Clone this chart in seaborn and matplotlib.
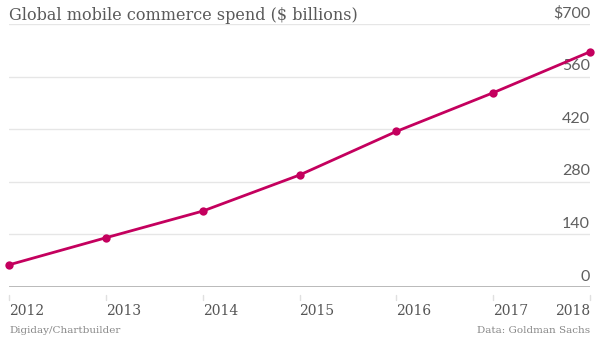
import matplotlib
matplotlib.use("Agg")
import matplotlib.pyplot as plt
import seaborn as sns
import pandas as pd

years = [2012, 2013, 2014, 2015, 2016, 2017, 2018]
spend = [59, 131, 202, 298, 414, 517, 626]
y_ticks = [0, 140, 280, 420, 560, 700]
y_labels = ["0", "140", "280", "420", "560", "$700"]
title = "Global mobile commerce spend ($ billions)"
source_left = "Digiday/Chartbuilder"
source_right = "Data: Goldman Sachs"

sns.set_style("white")
plt.rcParams["font.family"] = ["DejaVu Serif"]

df = pd.DataFrame({"year": years, "spend": spend})

fig = plt.figure(figsize=(6.0, 3.38), dpi=100)
ax = fig.add_axes([9 / 600, 1 - 287 / 338, 581 / 600, 263 / 338])

line_color = "#c4005e"
sns.lineplot(data=df, x="year", y="spend", ax=ax, color=line_color,
             linewidth=2.0, marker="o", markersize=6, markeredgewidth=0,
             zorder=5, clip_on=False)

ax.set_xlim(2012, 2018)
ax.set_ylim(0, 700)
for s in ax.spines.values():
    s.set_visible(False)

# horizontal gridlines with labels sitting just above them
for v, lab in zip(y_ticks, y_labels):
    if v == 0:
        ax.axhline(v, color="#b3b3b3", linewidth=2.0, zorder=2)
    else:
        ax.axhline(v, color="#e6e6e6", linewidth=1.0, zorder=1)
    ax.annotate(lab, xy=(1.0, v), xycoords=("axes fraction", "data"),
                xytext=(0, 2.5), textcoords="offset points",
                ha="right", va="bottom", fontsize=11.5, color="#5f5f5f",
                family="Lato")

ax.set_yticks([])
ax.set_xticks(years)
ax.set_xticklabels([])
ax.tick_params(axis="x", length=0)
ax.set_xlabel("")
ax.set_ylabel("")

# small tick marks below the baseline and year labels
for i, yr in enumerate(years):
    ax.plot([yr, yr], [-21, -34], color="#e0e0e0", linewidth=1,
            clip_on=False, zorder=1)
    ha = "right" if i == len(years) - 1 else "left"
    ax.annotate(str(yr), xy=(yr, 0), xycoords="data",
                xytext=(0, -12), textcoords="offset points",
                ha=ha, va="top", fontsize=10, color="#555555")

fig.text(9 / 600, 1 - 7 / 338, title, ha="left", va="top",
         fontsize=11.5, color="#5a5a5a")
fig.text(9 / 600, 1 - 326 / 338, source_left, ha="left", va="top",
         fontsize=7.5, color="#888888")
fig.text(590 / 600, 1 - 326 / 338, source_right, ha="right", va="top",
         fontsize=7.5, color="#888888")

fig.savefig("out.png", dpi=100)
